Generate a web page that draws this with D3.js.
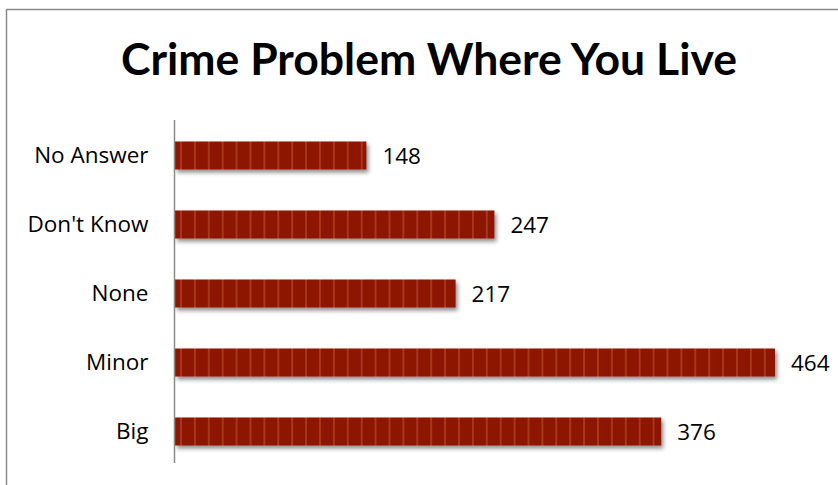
<!DOCTYPE html>
<html>
<head>
<meta charset="utf-8">
<script src="https://cdn.jsdelivr.net/npm/d3@7"></script>
<style>
  html, body { margin: 0; padding: 0; background: #fff; }
  svg { display: block; }
</style>
</head>
<body>
<svg id="chart" width="838" height="485"></svg>
<script>
// Survey responses: how big a problem is crime where you live
const categories = ["No Answer", "Don't Know", "None", "Minor", "Big"];
const counts = [148, 247, 217, 464, 376];
const title = "Crime Problem Where You Live";

const W = 838, H = 485;
const margin = { left: 175, right: 63, top: 120, bottom: 20 };
const svg = d3.select("#chart");

const defs = svg.append("defs");

// Vertical stripe texture used to fill the bars
const pat = defs.append("pattern")
  .attr("id", "stripes")
  .attr("patternUnits", "userSpaceOnUse")
  .attr("x", margin.left).attr("y", 0)
  .attr("width", 13.9).attr("height", 10);
pat.append("rect").attr("width", 13.9).attr("height", 10).attr("fill", "#8c1300");
pat.append("rect").attr("x", 5).attr("width", 2).attr("height", 10).attr("fill", "#a8381a");

// Soft shadow under each bar
const f = defs.append("filter").attr("id", "shadow")
  .attr("x", "-5%").attr("y", "-30%").attr("width", "115%").attr("height", "180%");
f.append("feDropShadow")
  .attr("dx", 2).attr("dy", 3).attr("stdDeviation", 2)
  .attr("flood-color", "#000").attr("flood-opacity", 0.45);

// Outer frame (left and top edges)
svg.append("path")
  .attr("d", `M6.5,${H} V9.5 H${W}`)
  .attr("fill", "none").attr("stroke", "#8a8a8a").attr("stroke-width", 1.5);

// Title
svg.append("text")
  .attr("x", 429).attr("y", 75)
  .attr("text-anchor", "middle")
  .attr("font-family", "Lato, 'Open Sans', sans-serif")
  .attr("font-weight", 700)
  .attr("font-size", 44.5)
  .attr("fill", "#000")
  .text(title);

const data = categories.map((c, i) => ({ cat: c, value: counts[i] }));

const x = d3.scaleLinear().domain([0, 464]).range([margin.left, 775]);
const y = d3.scaleBand().domain(categories)
  .range([margin.top + 1, margin.top + 1 + 5 * 69])
  .paddingInner(0.594).paddingOuter(0.297);

// Bars
svg.append("g").selectAll("rect").data(data).join("rect")
  .attr("x", x(0))
  .attr("y", d => y(d.cat))
  .attr("width", d => x(d.value) - x(0))
  .attr("height", y.bandwidth())
  .attr("fill", "url(#stripes)")
  .attr("filter", "url(#shadow)");

// Category axis
const yAxis = d3.axisLeft(y).tickSize(0).tickPadding(26);
const ga = svg.append("g").attr("transform", `translate(${margin.left - 0.5},0)`).call(yAxis);
ga.select(".domain").attr("stroke", "#8a8a8a").attr("stroke-width", 1.5)
  .attr("d", `M0,${margin.top} V463`);
ga.selectAll("text")
  .attr("font-family", "'Open Sans', Lato, sans-serif")
  .attr("font-size", 22.5)
  .attr("dy", "0.34em")
  .attr("fill", "#000");

// Value labels
svg.append("g").selectAll("text").data(data).join("text")
  .attr("x", d => x(d.value) + 16)
  .attr("y", d => y(d.cat) + y.bandwidth() / 2)
  .attr("dy", "0.36em")
  .attr("font-family", "'Open Sans', Lato, sans-serif")
  .attr("font-size", 22.5)
  .attr("fill", "#000")
  .text(d => d.value);
</script>
</body>
</html>
